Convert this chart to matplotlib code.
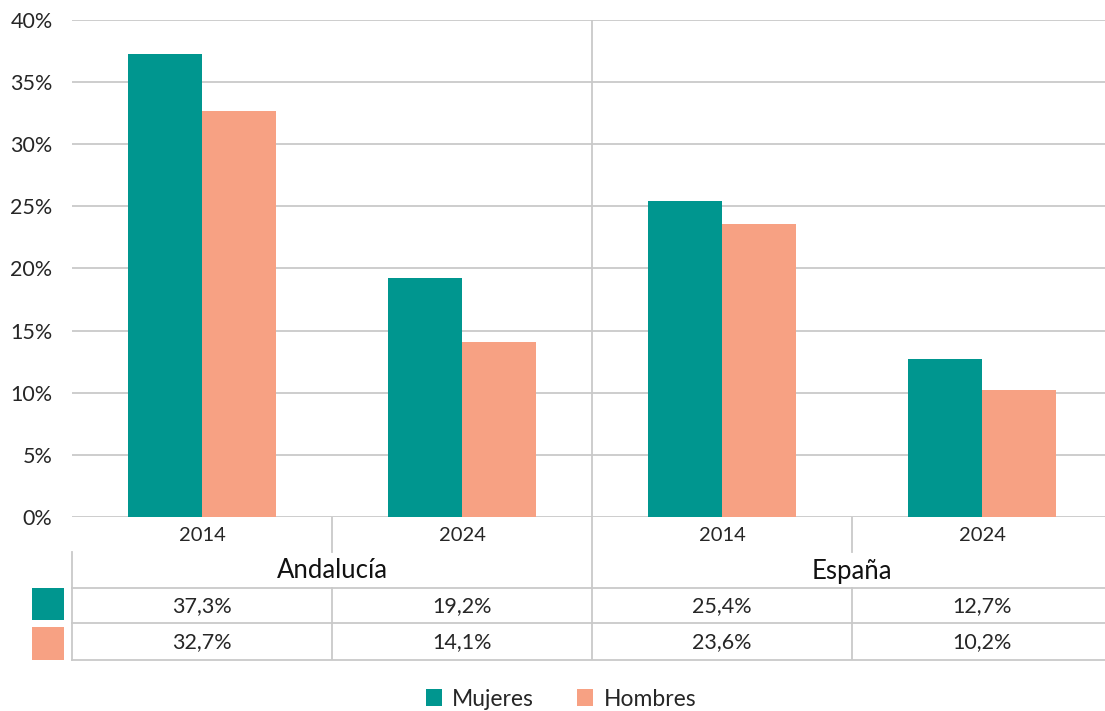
import matplotlib.pyplot as plt
from matplotlib.patches import Patch, Rectangle

# Data
regions = ['Andalucía', 'España']
years = ['2014', '2024', '2014', '2024']
mujeres = [37.3, 19.2, 25.4, 12.7]
hombres = [32.7, 14.1, 23.6, 10.2]
series_names = ['Mujeres', 'Hombres']

teal = '#00968f'
salmon = '#f7a183'
grid_color = '#c9c9c9'
text_color = '#262626'

plt.rcParams['font.family'] = ['Lato', 'DejaVu Sans']

W, H = 1105, 711
fig = plt.figure(figsize=(W / 100, H / 100), dpi=100)

# main plot area in pixels: x 72..1112 (runs a little past the edge), y 20..517
left, right, top, base = 72, 1112, 20, 517
ax = fig.add_axes([left / W, 1 - base / H, (right - left) / W, (base - top) / H])

x = list(range(len(years)))
bw = 0.285
ax.bar([i - bw / 2 for i in x], mujeres, width=bw, color=teal, zorder=3)
ax.bar([i + bw / 2 for i in x], hombres, width=bw, color=salmon, zorder=3)

ax.set_xlim(-0.5, len(years) - 0.5)
ax.set_ylim(0, 40)
ax.set_yticks(range(0, 41, 5))
ax.set_yticklabels([f'{v}%' for v in range(0, 41, 5)])
ax.tick_params(axis='y', length=0, pad=14, labelsize=15.5, labelcolor=text_color)
ax.set_xticks([])
for s in ax.spines.values():
    s.set_visible(False)
ax.grid(axis='y', color=grid_color, linewidth=1.3, zorder=0)
ax.axvline(1.5, color=grid_color, linewidth=1.3, zorder=1)

# table area below the axis: y 517..660 (pixel-like units from the baseline)
t_bottom = 660
tax = fig.add_axes([left / W, 1 - t_bottom / H, (right - left) / W, (t_bottom - base) / H])
tax.set_xlim(-0.5, len(years) - 0.5)
tax.set_ylim(t_bottom - base, 0)
tax.axis('off')

r1, r2, r3, r4 = 35, 71, 106, 143
lw = 1.3
for xs in [0.5, 2.5]:
    tax.plot([xs, xs], [0, r1], color=grid_color, lw=lw)
    tax.plot([xs, xs], [r2, r4], color=grid_color, lw=lw)
tax.plot([1.5, 1.5], [0, r4], color=grid_color, lw=lw)
tax.plot([-0.5, -0.5], [r1, r4], color=grid_color, lw=lw, clip_on=False)
for ys in [r2, r3, r4]:
    tax.plot([-0.5, len(years) - 0.5], [ys, ys], color=grid_color, lw=lw, clip_on=False)

for i, y in enumerate(years):
    tax.text(i, r1 / 2 + 1, y, ha='center', va='center', fontsize=14.5, color=text_color)
for j, reg in enumerate(regions):
    tax.text(2 * j + 0.5, (r1 + r2) / 2 + 1, reg, ha='center', va='center', fontsize=18.5,
             color='#111111')
for i in x:
    tax.text(i, (r2 + r3) / 2 + 1, f'{mujeres[i]:.1f}%'.replace('.', ','), ha='center',
             va='center', fontsize=15.5, color=text_color)
    tax.text(i, (r3 + r4) / 2 + 1, f'{hombres[i]:.1f}%'.replace('.', ','), ha='center',
             va='center', fontsize=15.5, color=text_color)

# colour keys at the left of the table rows
fig.add_artist(Rectangle((32 / W, 1 - 620 / H), 32 / W, 32 / H, transform=fig.transFigure,
                         facecolor=teal, edgecolor='none'))
fig.add_artist(Rectangle((32 / W, 1 - 660 / H), 32 / W, 33 / H, transform=fig.transFigure,
                         facecolor=salmon, edgecolor='none'))

handles = [Patch(facecolor=teal), Patch(facecolor=salmon)]
leg = fig.legend(handles, series_names, loc='center', bbox_to_anchor=(561 / W, 1 - 699 / H),
                 ncol=2, frameon=False, fontsize=16.5, handlelength=0.7, handleheight=0.7,
                 handletextpad=0.45, columnspacing=1.9)
for t in leg.get_texts():
    t.set_color(text_color)

fig.savefig('out.png', dpi=100)
